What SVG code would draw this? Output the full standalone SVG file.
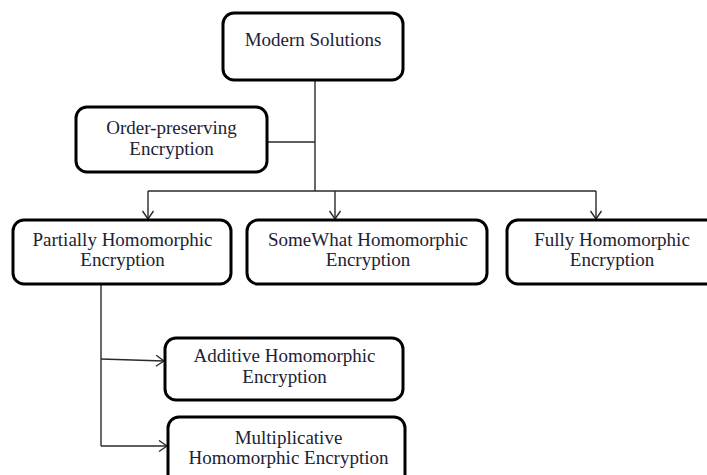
<svg xmlns="http://www.w3.org/2000/svg" width="707" height="475" viewBox="0 0 707 475">
  <style>
    .box { fill: #ffffff; stroke: #000000; stroke-width: 3; }
    .lbl { font-family: "Liberation Serif", "Times New Roman", serif; font-size: 19px; fill: #1c2236; text-anchor: middle; }
    .wire { fill: none; stroke: #2a2a2a; stroke-width: 1.4; }
  </style>
  <defs>
    <marker id="chev" markerUnits="userSpaceOnUse" markerWidth="12" markerHeight="14" refX="9" refY="6.5" orient="auto">
      <path d="M1,1 L9,6.5 L1,12" fill="none" stroke="#2a2a2a" stroke-width="1.4"/>
    </marker>
  </defs>
  <rect width="707" height="475" fill="#ffffff"/>

  <g id="connectors">
    <line class="wire" x1="315" y1="80" x2="315" y2="191"/>
    <line class="wire" x1="267" y1="142" x2="315" y2="142"/>
    <line class="wire" x1="148" y1="191" x2="596" y2="191"/>
    <line class="wire" x1="148" y1="191" x2="148" y2="219" marker-end="url(#chev)"/>
    <line class="wire" x1="335" y1="191" x2="335" y2="219" marker-end="url(#chev)"/>
    <line class="wire" x1="596" y1="191" x2="596" y2="219" marker-end="url(#chev)"/>
    <line class="wire" x1="101" y1="285" x2="101" y2="446"/>
    <line class="wire" x1="101" y1="359" x2="164" y2="361" marker-end="url(#chev)"/>
    <line class="wire" x1="101" y1="446" x2="167" y2="446" marker-end="url(#chev)"/>
  </g>

  <g id="modern-solutions">
    <rect class="box" x="223" y="13" width="180" height="67" rx="11"/>
    <text class="lbl" x="313" y="45.5">Modern Solutions</text>
  </g>

  <g id="order-preserving">
    <rect class="box" x="76" y="107" width="191" height="65" rx="11"/>
    <text class="lbl" x="171.5" y="134">Order-preserving</text>
    <text class="lbl" x="171.5" y="154.5">Encryption</text>
  </g>

  <g id="partially-he">
    <rect class="box" x="13" y="220" width="218" height="64" rx="11"/>
    <text class="lbl" x="122.5" y="246">Partially Homomorphic</text>
    <text class="lbl" x="122.5" y="266">Encryption</text>
  </g>

  <g id="somewhat-he">
    <rect class="box" x="247" y="220" width="240" height="64" rx="11"/>
    <text class="lbl" x="368" y="246">SomeWhat Homomorphic</text>
    <text class="lbl" x="368" y="266">Encryption</text>
  </g>

  <g id="fully-he">
    <rect class="box" x="507" y="220" width="212" height="64" rx="11"/>
    <text class="lbl" x="612" y="246">Fully Homomorphic</text>
    <text class="lbl" x="612" y="266">Encryption</text>
  </g>

  <g id="additive-he">
    <rect class="box" x="165" y="338" width="238" height="62" rx="11"/>
    <text class="lbl" x="284.5" y="362">Additive Homomorphic</text>
    <text class="lbl" x="284.5" y="383">Encryption</text>
  </g>

  <g id="multiplicative-he">
    <rect class="box" x="168" y="417" width="237" height="70" rx="11"/>
    <text class="lbl" x="288.5" y="444">Multiplicative</text>
    <text class="lbl" x="288.5" y="464">Homomorphic Encryption</text>
  </g>
</svg>
